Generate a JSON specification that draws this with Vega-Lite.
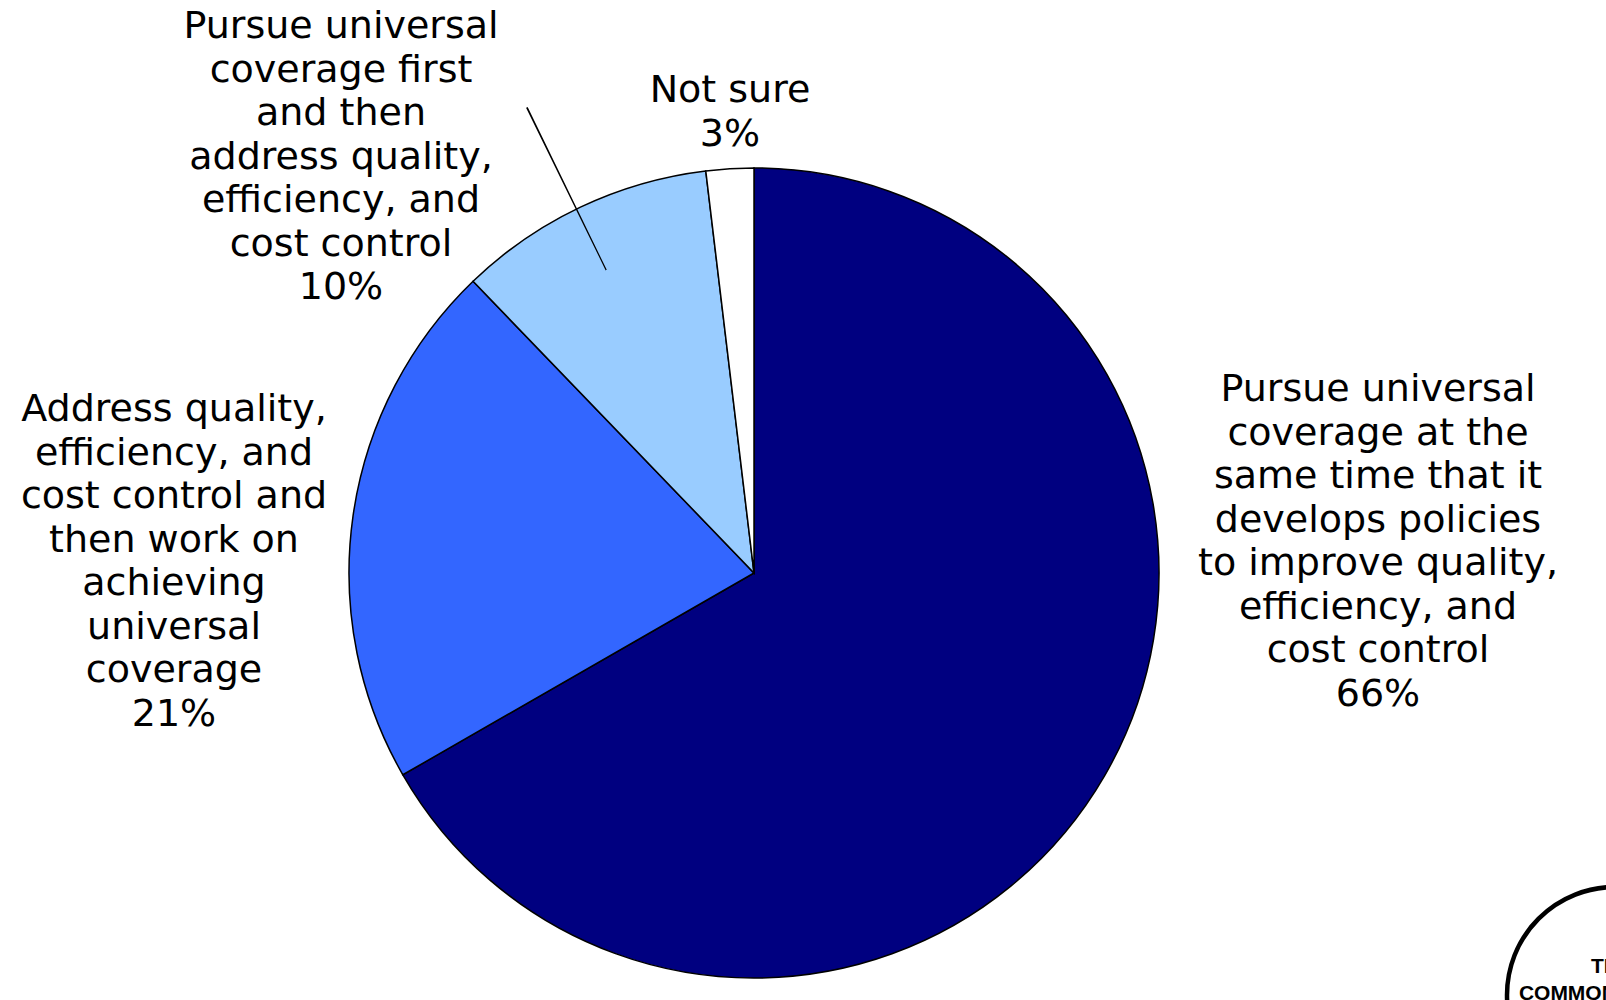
{
  "$schema": "https://vega.github.io/schema/vega-lite/v6.json",
  "width": 1606,
  "height": 1000,
  "autosize": {"type": "fit", "contains": "padding"},
  "padding": 0,
  "background": "white",
  "config": {"view": {"stroke": null}},
  "data": {
    "values": [
      {"category": "Pursue universal coverage at the same time", "value": 66.7, "rank": 1, "label": "Pursue universal\ncoverage at the\nsame time that it\ndevelops policies\nto improve quality,\nefficiency, and\ncost control\n66%"},
      {"category": "Address quality first", "value": 21.1, "rank": 2, "label": "Address quality,\nefficiency, and\ncost control and\nthen work on\nachieving\nuniversal\ncoverage\n21%"},
      {"category": "Pursue universal coverage first", "value": 10.3, "rank": 3, "label": "Pursue universal\ncoverage first\nand then\naddress quality,\nefficiency, and\ncost control\n10%"},
      {"category": "Not sure", "value": 1.9, "rank": 4, "label": "Not sure\n3%"}
    ]
  },
  "layer": [
    {
      "mark": {"type": "arc", "outerRadius": 405, "stroke": "black", "strokeWidth": 1.5},
      "encoding": {
        "x": {"value": 754},
        "y": {"value": 573},
        "theta": {"field": "value", "type": "quantitative", "stack": true},
        "order": {"field": "rank", "type": "quantitative"},
        "color": {
          "field": "category",
          "type": "nominal",
          "scale": {
            "domain": ["Pursue universal coverage at the same time", "Address quality first", "Pursue universal coverage first", "Not sure"],
            "range": ["#000080", "#3366FF", "#99CCFF", "#FFFFFF"]
          },
          "legend": null
        }
      }
    },
    {
      "data": {"values": [{}]},
      "mark": {"type": "arc", "color": "black"},
      "encoding": {
        "x": {"value": 754},
        "y": {"value": 573},
        "theta": {"value": 5.8275},
        "theta2": {"value": 5.831},
        "radius": {"value": 337},
        "radius2": {"value": 518}
      }
    },
    {
      "mark": {
        "type": "text",
        "font": "DejaVu Sans",
        "fontSize": 38,
        "lineBreak": "\n",
        "lineHeight": 43.5,
        "align": "center",
        "baseline": "middle",
        "color": "black",
        "dx": {"expr": "datum.rank == 1 ? 624 : datum.rank == 2 ? -580 : datum.rank == 3 ? -413 : -24"},
        "dy": {"expr": "datum.rank == 1 ? -183 : datum.rank == 2 ? -163 : datum.rank == 3 ? -546 : -482"}
      },
      "encoding": {
        "x": {"value": 754},
        "y": {"value": 573},
        "theta": {"field": "value", "type": "quantitative", "stack": true},
        "order": {"field": "rank", "type": "quantitative"},
        "radius": {"value": 0},
        "text": {"field": "label", "type": "nominal"}
      }
    },
    {
      "data": {"values": [{"logo": "THE\nCOMMONWEALTH\nFUND"}]},
      "layer": [
        {
          "mark": {"type": "arc", "fill": "white", "stroke": "black", "strokeWidth": 4.5, "outerRadius": 108},
          "encoding": {
            "x": {"value": 1615},
            "y": {"value": 995},
            "theta": {"value": 6.2832}
          }
        },
        {
          "mark": {"type": "text", "font": "Liberation Sans", "fontWeight": "bold", "fontSize": 21, "lineBreak": "\n", "lineHeight": 27, "align": "center", "baseline": "alphabetic", "color": "black"},
          "encoding": {
            "x": {"value": 1612},
            "y": {"value": 973},
            "text": {"field": "logo", "type": "nominal"}
          }
        }
      ]
    }
  ]
}
